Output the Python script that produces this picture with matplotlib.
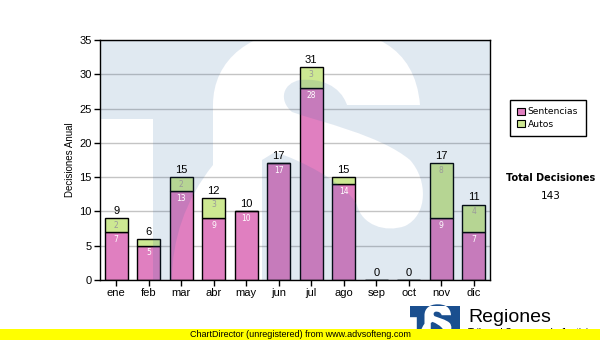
import numpy as np
import matplotlib
matplotlib.use("Agg")
import matplotlib.pyplot as plt
from matplotlib.path import Path
from matplotlib.patches import PathPatch, Rectangle
from matplotlib.transforms import Affine2D

plt.rcParams['font.family'] = ['Liberation Sans', 'DejaVu Sans']

# decisiones por mes
months = ['ene', 'feb', 'mar', 'abr', 'may', 'jun', 'jul', 'ago', 'sep', 'oct', 'nov', 'dic']
sentencias = [7, 5, 13, 9, 10, 17, 28, 14, 0, 0, 9, 7]
autos = [2, 1, 2, 3, 0, 0, 3, 1, 0, 0, 8, 4]
series_names = ['Sentencias', 'Autos']

PINK = '#e07fc0'
GREEN = '#cde892'
LOGO_BLUE = '#1a4f8f'

# logo shapes in a 390 x 240 frame (y grows downwards)
FRAME = [('M', (0, 0)), ('L', (0, 240)), ('L', (390, 240)), ('L', (390, 0)), ('Z',)]
T_CUT = [('M', (0, 79)), ('L', (53, 79)), ('L', (53, 240)), ('L', (0, 240)), ('Z',)]
S_CUT = [('M', (113, 65)),
         ('C', (113, 20), (150, -12), (215, -12)),
         ('C', (270, -12), (315, 5), (320, 65)),
         ('L', (247, 65)),
         ('C', (240, 45), (220, 38), (200, 40)),
         ('C', (183, 43), (178, 60), (192, 72)),
         ('C', (220, 82), (280, 95), (310, 120)),
         ('C', (328, 140), (328, 175), (305, 186)),
         ('C', (285, 193), (262, 185), (257, 165)),
         ('C', (245, 142), (200, 120), (175, 112)),
         ('L', (162, 120)),
         ('L', (162, 240)),
         ('L', (72, 240)),
         ('C', (72, 200), (85, 160), (113, 125)),
         ('Z',)]

CODES = {'M': Path.MOVETO, 'L': Path.LINETO, 'C': Path.CURVE4}


def logo_path():
    verts, codes = [], []
    for shape in (FRAME, T_CUT, S_CUT):
        start = shape[0][1]
        for seg in shape:
            if seg[0] == 'Z':
                verts.append(start)
                codes.append(Path.CLOSEPOLY)
            else:
                for p in seg[1:]:
                    verts.append(p)
                    codes.append(CODES[seg[0]])
    return Path(verts, codes)


fig = plt.figure(figsize=(6, 3.4), dpi=100)
ax = fig.add_axes([100 / 600, 60 / 340, 390 / 600, 240 / 340])

x = np.arange(len(months))
sent = np.array(sentencias)
aut = np.array(autos)
totals = sent + aut
w = 0.71

ax.bar(x, sent, width=w, color=PINK, edgecolor='black', linewidth=1, zorder=2)
ax.bar(x, aut, bottom=sent, width=w, color=GREEN, edgecolor='black', linewidth=1, zorder=2)

# watermark tint over the plot area
wm = PathPatch(logo_path(), facecolor='#2a64a0', alpha=0.14, edgecolor='none', zorder=2.5,
               transform=Affine2D().scale(1 / 390, -1 / 240).translate(0, 1) + ax.transAxes)
ax.add_patch(wm)

for i in range(len(months)):
    ax.annotate(str(totals[i]), (i, totals[i]), xytext=(0, 1.5), textcoords='offset points',
                ha='center', va='bottom', fontsize=8, zorder=4)
    if sent[i] > 0:
        ax.annotate(str(sent[i]), (i, sent[i]), xytext=(0, -5.2), textcoords='offset points',
                    ha='center', va='center', fontsize=5.5, color='white',
                    family='DejaVu Sans', zorder=4)
    if aut[i] >= 2:
        ax.annotate(str(aut[i]), (i, totals[i]), xytext=(0, -5.2), textcoords='offset points',
                    ha='center', va='center', fontsize=5.5, color='#9a9a9a',
                    family='DejaVu Sans', zorder=4)

ax.set_xlim(-0.5, len(months) - 0.5)
ax.set_ylim(0, 35)
ax.set_yticks(range(0, 36, 5))
ax.set_xticks(x)
ax.set_xticklabels(months)
ax.yaxis.grid(True, color='#c4c4c4', linewidth=1)
ax.set_axisbelow(True)
ax.tick_params(direction='out', length=4, width=1, labelsize=8, pad=2)
for s in ax.spines.values():
    s.set_linewidth(1)
ax.set_ylabel('Decisiones Anual', fontsize=7)
ax.yaxis.set_label_coords(-25 / 390, 0.5)

handles = [Rectangle((0, 0), 1, 1, facecolor=PINK, edgecolor='black', linewidth=0.8),
           Rectangle((0, 0), 1, 1, facecolor=GREEN, edgecolor='black', linewidth=0.8)]
leg = fig.legend(handles, series_names, loc='upper left', bbox_to_anchor=(510 / 600, 1 - 100 / 340),
                 prop={'family': 'DejaVu Sans', 'size': 6.6}, frameon=True, fancybox=False,
                 edgecolor='black', framealpha=1, handlelength=0.85, handleheight=0.85,
                 handletextpad=0.3, borderpad=0.8, labelspacing=0.35, borderaxespad=0)
leg.get_frame().set_linewidth(1)

fig.text(551 / 600, 1 - 178 / 340, 'Total Decisiones', ha='center', va='center',
         fontsize=7, fontweight='bold', family='DejaVu Sans')
fig.text(551 / 600, 1 - 196 / 340, str(totals.sum()), ha='center', va='center',
         fontsize=7.5, family='DejaVu Sans')

# logo at the bottom right
logo_tr = Affine2D().scale(50 / 390, -34 / 240).translate(410, 340 - 306).scale(1 / 600, 1 / 340) + fig.transFigure
fig.add_artist(PathPatch(logo_path(), facecolor=LOGO_BLUE, edgecolor='none', zorder=3, transform=logo_tr))
fig.text(468 / 600, 1 - 322 / 340, 'Regiones', ha='left', va='baseline', fontsize=14, zorder=3)
fig.text(468 / 600, 1 - 336 / 340, 'Tribunal Supremo de Justicia', ha='left', va='baseline',
         fontsize=7, zorder=3)

# unregistered banner
fig.add_artist(Rectangle((0, 0), 1, 11 / 340, transform=fig.transFigure, facecolor='#ffff00',
                         edgecolor='none', zorder=5))
fig.text(0.5, 5.5 / 340, 'ChartDirector (unregistered) from www.advsofteng.com', ha='center',
         va='center', fontsize=6.5, zorder=6)

fig.savefig('out.png', dpi=100)
